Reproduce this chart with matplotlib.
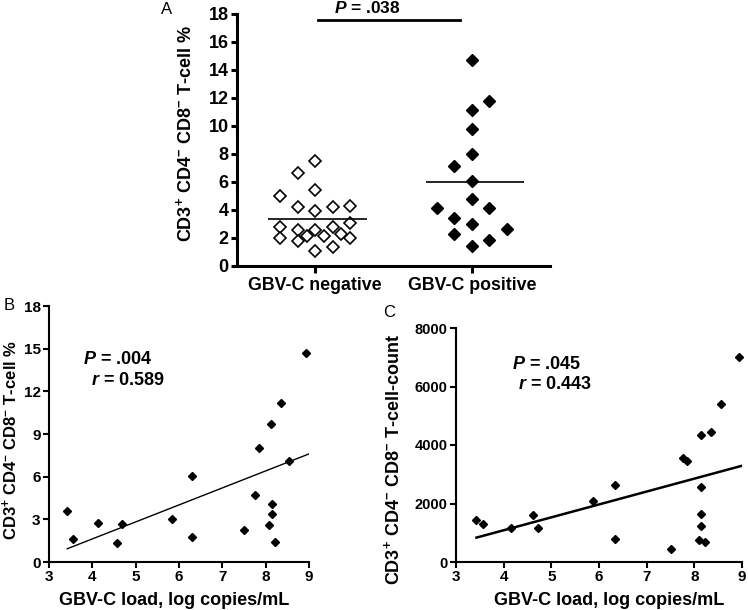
import matplotlib
matplotlib.use("Agg")
import matplotlib.pyplot as plt
import numpy as np

plt.rcParams['font.family'] = ['Liberation Sans', 'DejaVu Sans']
plt.rcParams['font.weight'] = 'bold'
plt.rcParams['mathtext.fontset'] = 'custom'
plt.rcParams['mathtext.rm'] = 'Liberation Sans:bold'
plt.rcParams['mathtext.it'] = 'Liberation Sans:bold:italic'
plt.rcParams['mathtext.bf'] = 'Liberation Sans:bold'

# panel A: dot plot
groups = ['GBV-C negative', 'GBV-C positive']
neg_vals = [5.01, 2.79, 2.03, 6.66, 4.18, 2.55, 1.79, 2.17, 7.47, 5.42, 3.94, 2.55, 1.07,
            2.12, 4.18, 2.79, 1.36, 2.31, 4.32, 3.08, 2.03]
neg_cols = [-4, -4, -4, -2, -2, -2, -2, -1, 0, 0, 0, 0, 0, 1, 2, 2, 2, 3, 4, 4, 4]
pos_vals = [4.15, 7.16, 3.44, 2.32, 14.68, 11.15, 9.76, 8.02, 6.06, 4.77, 3.03, 1.41,
            11.79, 4.15, 1.84, 2.63]
pos_cols = [-4, -2, -2, -2, 0, 0, 0, 0, 0, 0, 0, 0, 2, 2, 2, 4]

# panels B and C: viral load vs T-cell
load_b = [3.42, 3.55, 4.14, 4.58, 4.69, 5.85, 6.31, 6.31, 7.50, 7.76, 7.84, 8.08, 8.12,
          8.14, 8.14, 8.22, 8.35, 8.54, 8.93]
pct_b = [3.57, 1.59, 2.73, 1.31, 2.68, 2.99, 6.02, 1.77, 2.24, 4.74, 8.00, 2.59, 9.70,
         4.11, 3.41, 1.40, 11.15, 7.07, 14.70]
fit_b_x = [3.42, 9.0]
fit_b_y = [0.93, 7.60]

load_c = [3.43, 3.57, 4.16, 4.61, 4.71, 5.88, 6.34, 6.34, 7.52, 7.76, 7.85, 8.10, 8.13,
          8.15, 8.15, 8.15, 8.23, 8.35, 8.55, 8.93]
count_c = [1452, 1314, 1166, 1600, 1177, 2091, 2629, 777, 457, 3543, 3451, 766, 4343,
           2549, 1657, 1234, 686, 4457, 5394, 6994]
fit_c_x = [3.43, 9.0]
fit_c_y = [834, 3291]

ylab_pct = r'CD3$^{+}$ CD4$^{-}$ CD8$^{-}$ T-cell %'
ylab_cnt = r'CD3$^{+}$ CD4$^{-}$ CD8$^{-}$ T-cell-count'
xlab = 'GBV-C load, log copies/mL'

fig = plt.figure(figsize=(7.48, 6.10), dpi=100)
W, H = 748, 610


def add_ax(l, t, r, b):
    return fig.add_axes([l / W, 1 - b / H, (r - l) / W, (b - t) / H])


def style(ax, lw):
    ax.spines['top'].set_visible(False)
    ax.spines['right'].set_visible(False)
    for s in ['left', 'bottom']:
        ax.spines[s].set_linewidth(lw)
    ax.tick_params(direction='out', width=lw, length=4, pad=2)


# ---- A ----
ax = add_ax(237, 14, 550, 266)
style(ax, 2.2)
step = 0.0556
ax.plot(0 + np.array(neg_cols) * step, neg_vals, 'D', ms=6.2, mfc='white', mec='black',
        mew=1.2, clip_on=False)
ax.plot(1 + np.array(pos_cols) * step, pos_vals, 'D', ms=6.2, mfc='black', mec='black',
        clip_on=False)
ax.hlines([np.mean(neg_vals)], -0.30, 0.333, color='black', lw=1.2)
ax.hlines([np.mean(pos_vals)], 1 - 0.29, 1.335, color='black', lw=1.2)
ax.plot([0.017, 0.925], [17.54, 17.54], color='black', lw=2, clip_on=False)
ax.text(0.333, 18.1, r'$P$ = .038', ha='center', va='baseline', fontsize=12.5,
        fontweight='bold')
ax.set_xlim(-0.5, 1.5)
ax.set_ylim(0, 18)
ax.set_yticks(range(0, 19, 2))
ax.set_xticks([0, 1])
ax.set_xticklabels(groups, fontsize=12.8, fontweight='bold')
ax.tick_params(axis='y', labelsize=13)
ax.tick_params(axis='x', length=5, pad=3)
ax.set_ylabel(ylab_pct, fontsize=13, fontweight='bold')
ax.yaxis.set_label_coords(-0.134, 0.524)
fig.text(167 / W, 1 - 9 / H, 'A', fontsize=12, fontweight='normal', ha='center', va='center')

# ---- B ----
ax = add_ax(49, 306, 309, 562)
style(ax, 1.5)
ax.plot(load_b, pct_b, 'D', ms=4.4, color='black', clip_on=False)
ax.plot(fit_b_x, fit_b_y, color='black', lw=1.0)
ax.text(3.79, 14.23, r'$P$ = .004', fontsize=13, fontweight='bold', va='center')
ax.text(3.98, 12.78, r'$r$ = 0.589', fontsize=13, fontweight='bold', va='center')
ax.set_xlim(3, 9)
ax.set_ylim(0, 18)
ax.set_xticks(range(3, 10))
ax.set_yticks(range(0, 19, 3))
ax.tick_params(labelsize=11)
ax.set_xlabel(xlab, fontsize=13, fontweight='bold')
ax.xaxis.set_label_coords(0.483, -0.117)
ax.set_ylabel(ylab_pct, fontsize=12, fontweight='bold')
ax.yaxis.set_label_coords(-0.112, 0.477)
fig.text(9 / W, 1 - 306 / H, 'B', fontsize=12, fontweight='normal', ha='center', va='center')

# ---- C ----
ax = add_ax(456, 328, 742, 562)
style(ax, 1.5)
ax.plot(load_c, count_c, 'D', ms=4.4, color='black', clip_on=False)
ax.plot(fit_c_x, fit_c_y, color='black', lw=1.8)
ax.text(4.17, 6767, r'$P$ = .045', fontsize=13, fontweight='bold', va='center')
ax.text(4.31, 6080, r'$r$ = 0.443', fontsize=13, fontweight='bold', va='center')
ax.set_xlim(3, 9)
ax.set_ylim(0, 8000)
ax.set_xticks(range(3, 10))
ax.set_yticks(range(0, 8001, 2000))
ax.tick_params(axis='x', labelsize=11)
ax.tick_params(axis='y', labelsize=10.5)
ax.set_xlabel(xlab, fontsize=13, fontweight='bold')
ax.xaxis.set_label_coords(0.537, -0.128)
ax.set_ylabel(ylab_cnt, fontsize=13, fontweight='bold')
ax.yaxis.set_label_coords(-0.185, 0.436)
fig.text(389 / W, 1 - 313 / H, 'C', fontsize=12, fontweight='normal', ha='center', va='center')

fig.savefig('out.png', dpi=100)
